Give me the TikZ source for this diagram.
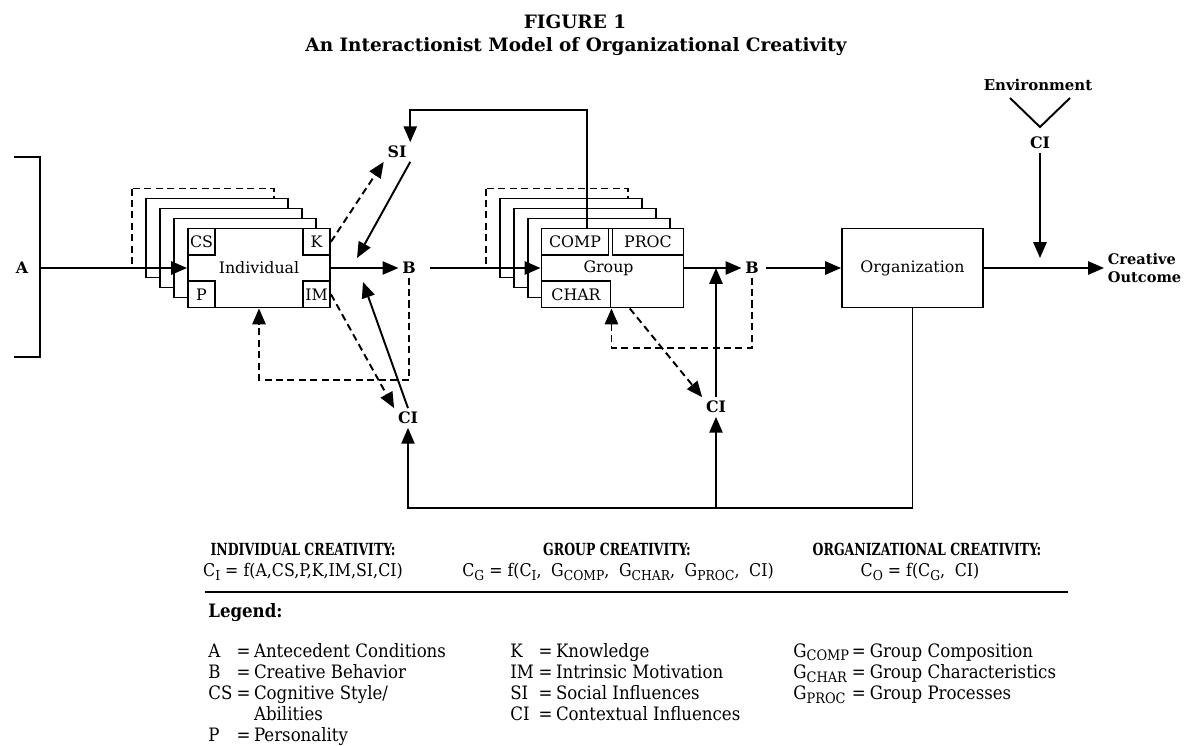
\documentclass[tikz,border=0pt]{standalone}
\usepackage{fontspec}
\usepackage{array}
\usepackage{graphicx}
\setmainfont{DejaVu Serif}
\newfontfamily\narrowfont[FakeStretch=0.9]{DejaVu Serif}
\newfontfamily\headfont[FakeStretch=0.75]{DejaVu Serif}
\usetikzlibrary{arrows.meta,calc,positioning}

\newcommand{\lsub}[1]{\raisebox{-0.4ex}{\scalebox{0.78}{#1}}}

\tikzset{
  arr/.style={-{Triangle[length=9pt,width=7.5pt]}, line width=1.1pt},
  dasharr/.style={arr, dash pattern=on 4pt off 2.5pt},
  backbox/.style={draw, fill=white, line width=1.1pt},
  dashbox/.style={backbox, dash pattern=on 4pt off 2.5pt},
  front/.style={draw, fill=white, line width=1.1pt, minimum width=2.84cm,
    minimum height=1.58cm, inner sep=0pt, font=\fontsize{9}{10}\selectfont},
  cell/.style={draw, line width=1.1pt, minimum height=0.53cm, inner sep=0.5pt,
    font=\fontsize{9}{10}\selectfont},
  lbl/.style={inner sep=2pt, font=\bfseries\fontsize{9}{10}\selectfont},
  hd/.style={font=\headfont\bfseries\fontsize{9.5}{11}\selectfont},
  fm/.style={font=\narrowfont\fontsize{10}{11}\selectfont},
  lg/.style={inner sep=0pt, font=\narrowfont\fontsize{10.5}{12}\selectfont},
}

% stack of cards behind a front box (#1,#2 = its north west corner)
\newcommand{\backstack}[2]{%
  \foreach \k/\sty in {4/dashbox,3/backbox,2/backbox,1/backbox}
    \draw[\sty] ({#1-14*\k},{#2-10*\k}) rectangle ++(142,79);
}

\begin{document}
\begin{tikzpicture}[x=0.02cm,y=-0.02cm]
  \useasboundingbox (0,0) rectangle (1188,745);

  % title
  \node[font=\bfseries\fontsize{10.5}{12}\selectfont] (fig) at (575,22) {FIGURE 1};
  \node[font=\bfseries\fontsize{10.5}{12}\selectfont] (ttl) at (576,47)
    {An Interactionist Model of Organizational Creativity};

  % antecedents
  \draw[line width=1.1pt] (14,157) -- (40,157) -- (40,357) -- (14,357);
  \coordinate (abr) at (40,268);
  \node[lbl] (a) at (22,268) {A};

  % individual
  \backstack{188}{228.5}
  \node[front] (ind) at (259,268) {Individual};
  \node[cell, minimum width=0.54cm, anchor=north west] (cs) at (ind.north west) {CS};
  \node[cell, minimum width=0.54cm, anchor=north east] (k) at (ind.north east) {K};
  \node[cell, minimum width=0.54cm, anchor=south west] (p) at (ind.south west) {P};
  \node[cell, minimum width=0.54cm, anchor=south east] (im) at (ind.south east) {IM};

  % group
  \backstack{542}{228.5}
  \node[front] (grp) at (612.5,268) {\hspace*{-4.5pt}Group};
  \node[cell, minimum width=1.34cm, anchor=north west] (comp) at (grp.north west) {COMP};
  \node[cell, minimum width=1.42cm, anchor=north east] (proc) at (grp.north east) {PROC};
  \node[cell, minimum width=1.38cm, anchor=south west] (char) at (grp.south west) {CHAR};

  % organization
  \node[front, minimum width=2.82cm] (org) at (912.5,268) {Organization};

  \node[lbl] (b1) at (409,268) {B};
  \node[lbl] (si) at (397,152) {SI};
  \node[lbl] (ci1) at (408,418) {CI};
  \node[lbl] (b2) at (752,268) {B};
  \node[lbl] (ci2) at (716,407) {CI};
  \node[lbl, font=\bfseries\fontsize{8.5}{10}\selectfont] (env) at (1038,85) {Environment};
  \node[lbl] (ci3) at (1040,143) {CI};
  \node[lbl, align=left, anchor=west, font=\bfseries\fontsize{8.3}{10}\selectfont]
    (out) at (1104,268) {Creative\\Outcome};

  \coordinate (ytop) at (0,110);
  \coordinate (ybot) at (0,508);
  \coordinate (yfb1) at (0,380);
  \coordinate (yfb2) at (0,348);
  \coordinate (sihit) at (357,258);
  \coordinate (cihit) at (363,282);
  \coordinate (topc) at ($(grp.north west)!0.32!(grp.north east)$);
  \coordinate (gbot) at ($(grp.south west)!0.62!(grp.south east)$);
  \coordinate (vl) at (1010,98);
  \coordinate (vr) at (1070,98);
  \coordinate (vtip) at (1040,127);

  % main flow
  \draw[arr] (abr) -- (abr -| ind.west);
  \draw[arr] (ind.east) -- (b1.west);
  \draw[arr, shorten <=6pt] (b1.east) -- (b1.east -| grp.west);
  \draw[arr] (grp.east) -- (b2.west);
  \draw[arr, shorten <=2pt] (b2.east) -- (org.west);
  \draw[arr] (org.east) -- (out.west);

  % social and contextual influences
  \draw[arr] (topc) -- (topc |- ytop) -| (si.north east);
  \draw[dasharr] (k.east) -- (si.south west);
  \draw[arr] (si.south east) -- (sihit);
  \draw[dasharr] (im.east) -- (ci1.north west);
  \draw[arr] (ci1.north) -- (cihit);
  \draw[dasharr] (b1.south) -- (b1.south |- yfb1) -| (ind.south);

  \draw[arr] (ci2.north) -- (ci2.north |- grp.east);
  \draw[dasharr] (gbot) -- (ci2.north west);
  \draw[dasharr] (b2.south) -- (b2.south |- yfb2) -| (char.south east);

  \draw[arr] (org.south) -- (org.south |- ybot) -| (ci1.south);
  \draw[arr] (ci2.south |- ybot) -- (ci2.south);

  \draw[line width=1.1pt] (vl) -- (vtip) -- (vr);
  \draw[arr] (ci3.south) -- ($(ci3.south |- org.east)+(0,-10)$);

  % equations
  \node[hd] (hind) at (303,549) {INDIVIDUAL CREATIVITY:};
  \node[fm] (find) at (303,572) {C\lsub{I} = f(A,CS,P,K,IM,SI,CI)};
  \node[hd] (hgrp) at (617,549) {GROUP CREATIVITY:};
  \node[fm] (fgrp) at (618,572) {C\lsub{G} = f(C\lsub{I},\hspace{0.55em}G\lsub{COMP},\hspace{0.55em}G\lsub{CHAR},\hspace{0.55em}G\lsub{PROC},\hspace{0.55em}CI)};
  \node[hd] (horg) at (927,549) {ORGANIZATIONAL CREATIVITY:};
  \node[fm] (forg) at (920,572) {C\lsub{O} = f(C\lsub{G},\hspace{0.55em}CI)};
  \draw[line width=1.6pt] (205,592) -- (1068,592);

  % legend
  \node[lg, anchor=west] (leg) at (208,613) {\bfseries Legend:};
  \node[lg, anchor=north west] (lg1) at (208,642) {%
    \begin{tabular}{@{}p{14pt}@{}>{\centering\arraybackslash}p{12pt}@{}l@{}}
      A & = & Antecedent Conditions\\
      B & = & Creative Behavior\\
      CS & = & Cognitive Style/\\
         &   & Abilities\\
      P & = & Personality
    \end{tabular}};
  \node[lg, anchor=north west] (lg2) at (510,642) {%
    \begin{tabular}{@{}p{14pt}@{}>{\centering\arraybackslash}p{12pt}@{}l@{}}
      K & = & Knowledge\\
      IM & = & Intrinsic Motivation\\
      SI & = & Social Influences\\
      CI & = & Contextual Influences
    \end{tabular}};
  \node[lg, anchor=north west] (lg3) at (793,642) {%
    \begin{tabular}{@{}p{31pt}@{}>{\centering\arraybackslash}p{12.5pt}@{}l@{}}
      G\lsub{COMP} & = & Group Composition\\
      G\lsub{CHAR} & = & Group Characteristics\\
      G\lsub{PROC} & = & Group Processes
    \end{tabular}};
\end{tikzpicture}
\end{document}
